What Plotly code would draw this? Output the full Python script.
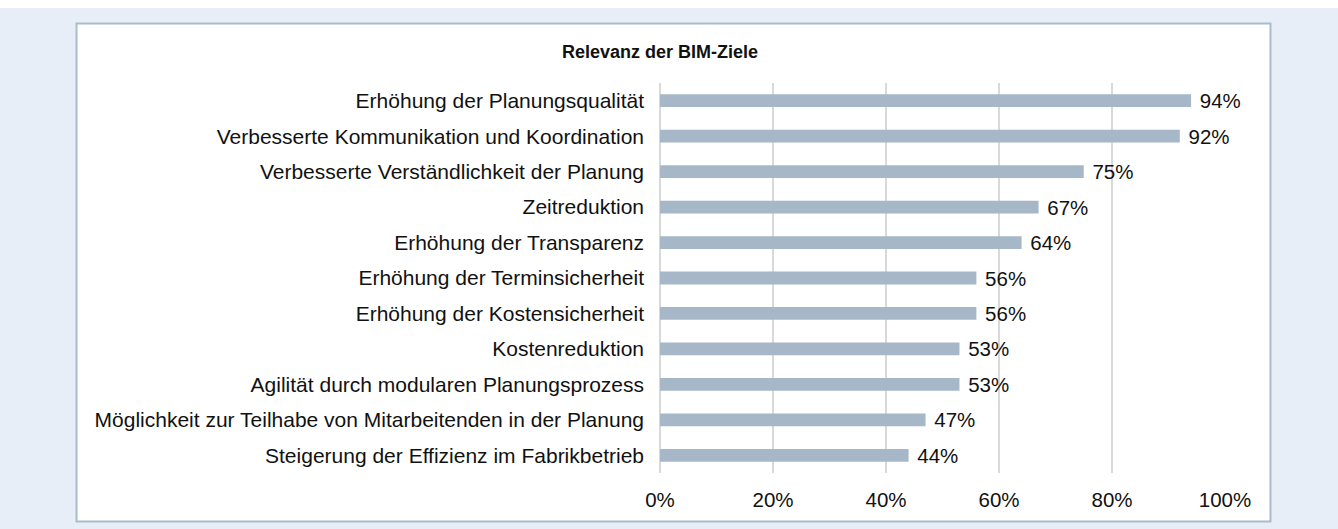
import plotly.graph_objects as go

categories = [
    "Erhöhung der Planungsqualität",
    "Verbesserte Kommunikation und Koordination",
    "Verbesserte Verständlichkeit der Planung",
    "Zeitreduktion",
    "Erhöhung der Transparenz",
    "Erhöhung der Terminsicherheit",
    "Erhöhung der Kostensicherheit",
    "Kostenreduktion",
    "Agilität durch modularen Planungsprozess",
    "Möglichkeit zur Teilhabe von Mitarbeitenden in der Planung",
    "Steigerung der Effizienz im Fabrikbetrieb",
]
values = [94, 92, 75, 67, 64, 56, 56, 53, 53, 47, 44]
tick_values = [0, 20, 40, 60, 80, 100]
tick_labels = ["0%", "20%", "40%", "60%", "80%", "100%"]
title_text = "Relevanz der BIM-Ziele"

W, H = 1338, 529
L, R, T, B = 660, 1225, 83, 473

def px_x(p):
    return (p - L) / (R - L)

def px_y(p):
    return (B - p) / (B - T)

fig = go.Figure(go.Bar(
    x=values,
    y=categories,
    orientation="h",
    marker=dict(color="#a6b8c7", line=dict(width=0)),
    width=0.36,
    text=[f"\u00a0{v}%" for v in values],
    textposition="outside",
    constraintext="none",
    textfont=dict(size=20.5, color="#111111"),
    cliponaxis=False,
    hoverinfo="skip",
))

fig.update_layout(
    width=W, height=H,
    margin=dict(l=L, r=W - R, t=T, b=H - B, autoexpand=False),
    paper_bgcolor="white",
    plot_bgcolor="rgba(0,0,0,0)",
    font=dict(family="Liberation Sans, Arial, sans-serif", size=21, color="#111111"),
    showlegend=False,
    title=dict(text=f"<b>{title_text}</b>", x=px_x(660), xref="paper", xanchor="center",
               y=1 - 52 / H, yanchor="middle", font=dict(size=18, color="#111111")),
    shapes=[
        dict(type="rect", xref="paper", yref="paper", layer="below",
             x0=px_x(0), x1=px_x(W), y0=px_y(8), y1=px_y(H),
             fillcolor="#e8eef7", line=dict(width=0)),
        dict(type="rect", xref="paper", yref="paper", layer="below",
             x0=px_x(76.5), x1=px_x(1270.5), y0=px_y(23.5), y1=px_y(521.5),
             fillcolor="white", line=dict(color="#a9bccb", width=2)),
    ],
)

fig.update_xaxes(
    range=[0, 100], tickvals=tick_values, ticktext=tick_labels,
    showgrid=True, gridcolor="#d9d9d9", gridwidth=1.5,
    zeroline=True, zerolinecolor="#d9d9d9", zerolinewidth=1.5,
    showline=False, ticks="", ticklabelstandoff=12,
    tickfont=dict(size=20.5), fixedrange=True,
)
fig.update_yaxes(
    categoryorder="array", categoryarray=categories[::-1],
    showgrid=False, zeroline=False, showline=False, ticks="",
    ticklabelstandoff=15, tickfont=dict(size=21), fixedrange=True,
)

fig.write_html("out.html", config={"displayModeBar": False},
               post_script="document.body.style.margin='0';")
